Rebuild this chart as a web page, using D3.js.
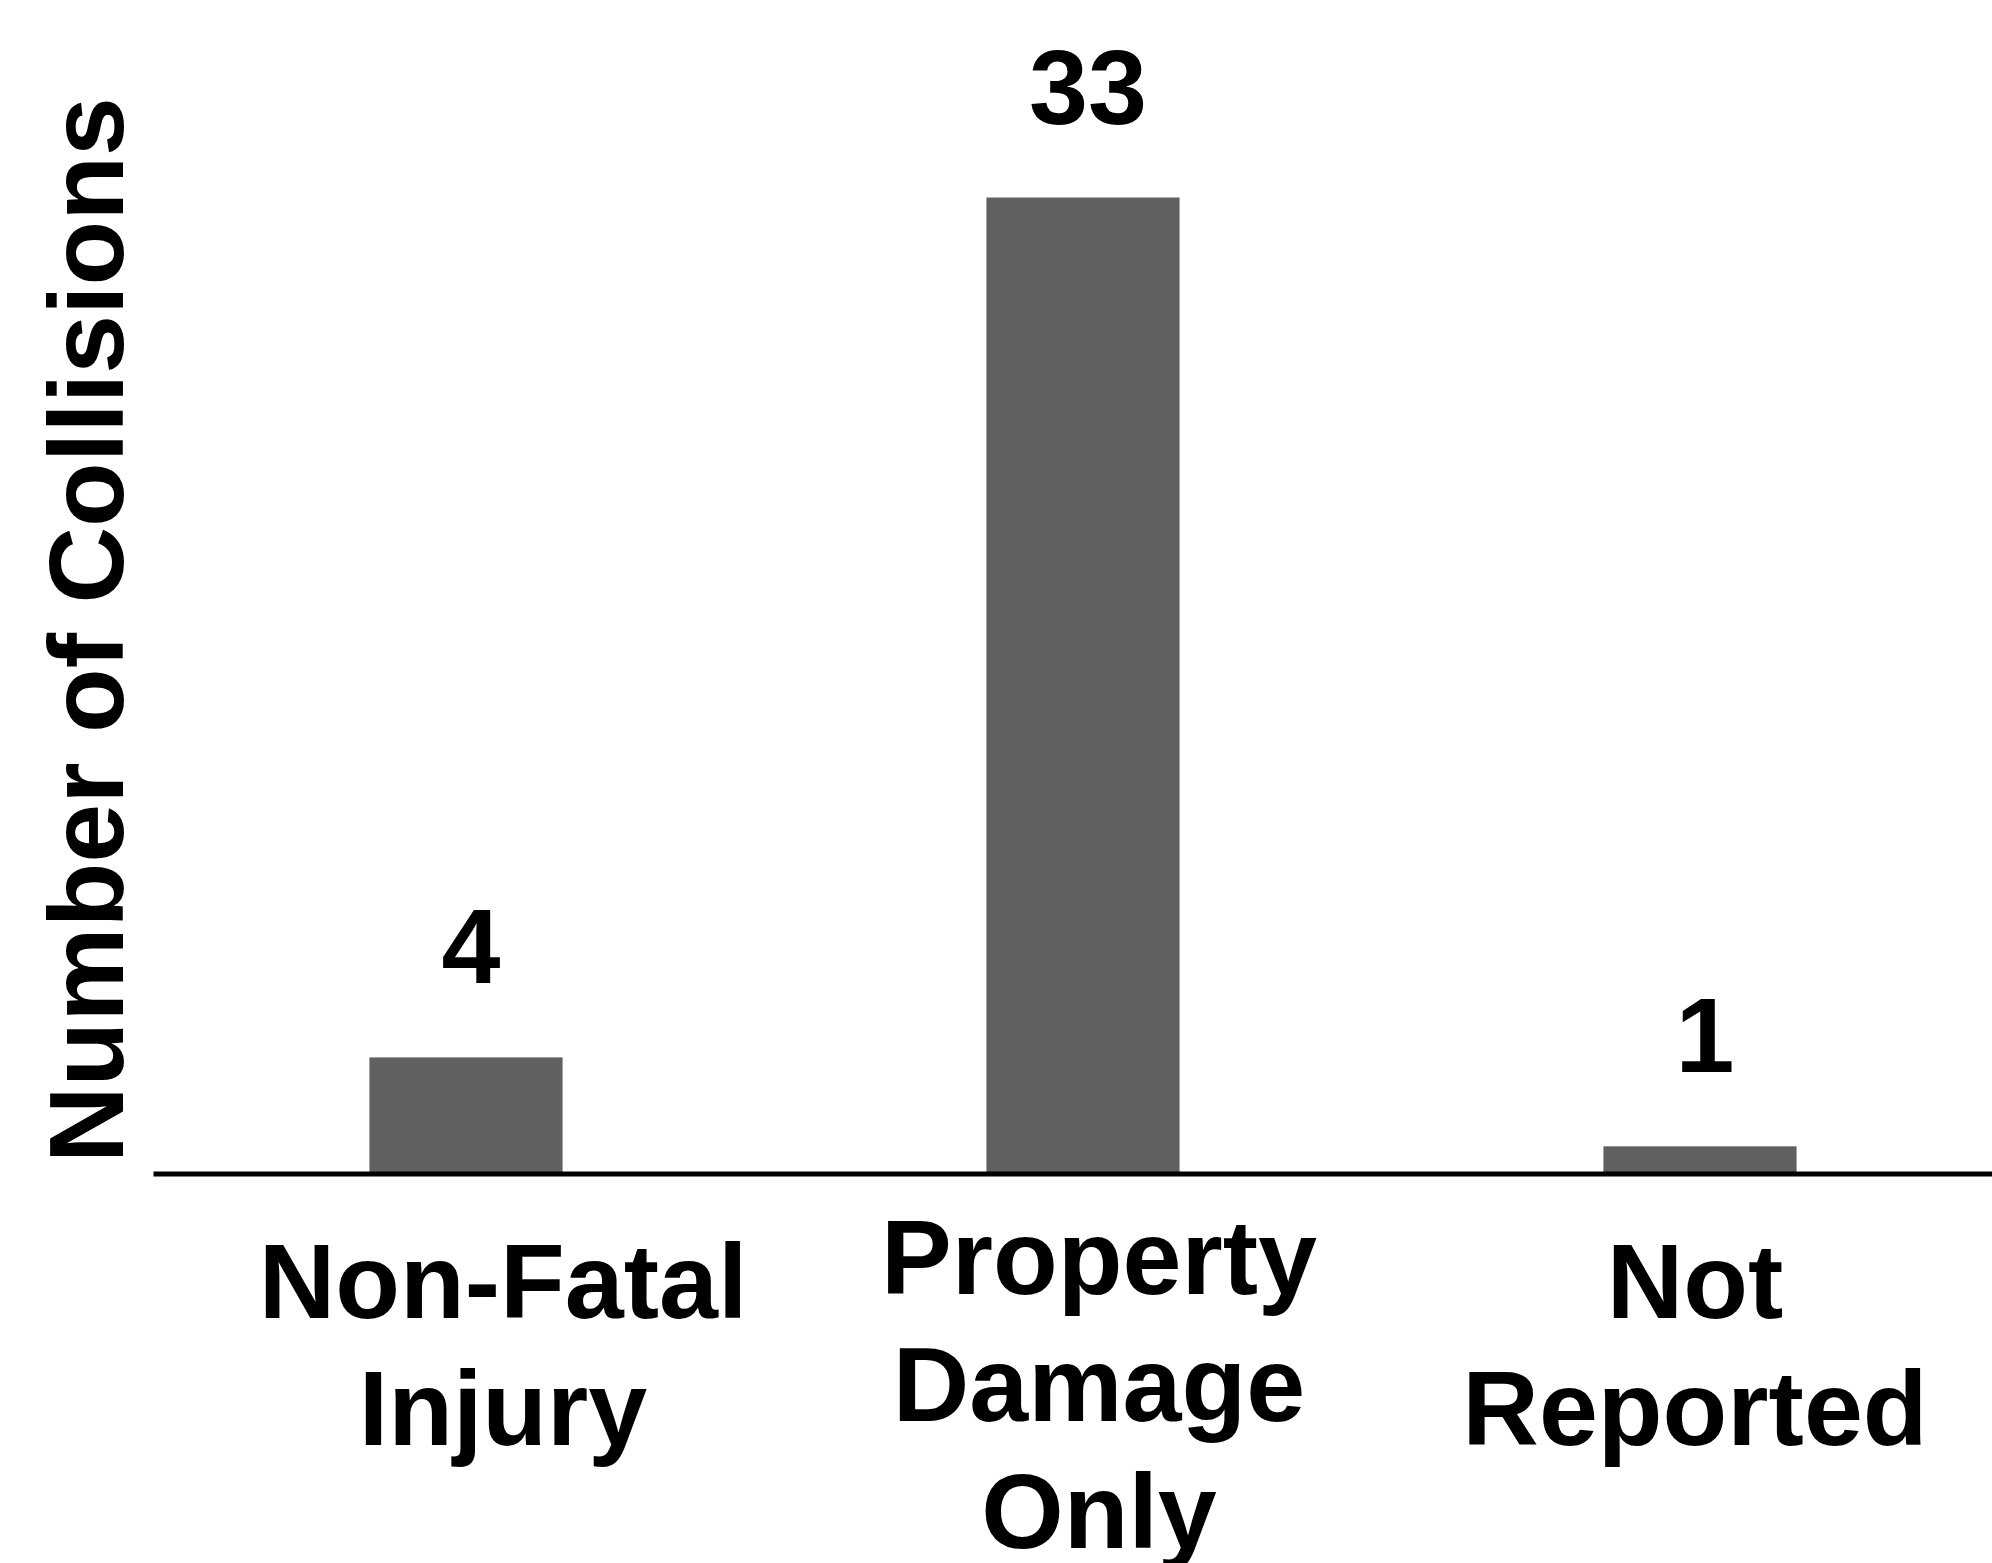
<!DOCTYPE html>
<html>
<head>
<meta charset="utf-8">
<script src="https://cdn.jsdelivr.net/npm/d3@7"></script>
<style>
  html, body { margin: 0; padding: 0; background: #ffffff; }
  svg { display: block; }
  text { font-family: "Liberation Sans", Arial, Helvetica, sans-serif; font-weight: bold; fill: #000; }
</style>
</head>
<body>
<script>
// ---- data ----
const categories = ["Non-Fatal Injury", "Property Damage Only", "Not Reported"];
const categoryLines = [["Non-Fatal", "Injury"], ["Property", "Damage", "Only"], ["Not", "Reported"]];
const values = [4, 33, 1];
const yTitle = "Number of Collisions";

// ---- layout ----
const W = 1992, H = 1563;
const svg = d3.select("body").append("svg").attr("width", W).attr("height", H);

const x = d3.scaleBand()
  .domain(categories)
  .range([157.5, 2008.5])
  .paddingInner(0.687)
  .paddingOuter(0.3435);

const xLabel = d3.scalePoint()
  .domain(categories)
  .range([503, 1695]);

const y = d3.scaleLinear()
  .domain([0, 33])
  .range([1176, 197.5]);

// bars
svg.append("g").selectAll("rect")
  .data(values)
  .join("rect")
  .attr("x", (d, i) => x(categories[i]))
  .attr("y", d => y(d))
  .attr("width", x.bandwidth())
  .attr("height", d => y(0) - y(d))
  .attr("fill", "#606060");

// axis line
const axisG = svg.append("g").attr("transform", "translate(0,1173.5)");
const xAxis = d3.axisBottom(d3.scaleLinear().range([153, W])).ticks(0).tickSize(0).tickFormat("");
axisG.call(xAxis);
axisG.select(".domain").attr("stroke", "#000").attr("stroke-width", 5);

// value labels
svg.append("g").selectAll("text")
  .data(values)
  .join("text")
  .attr("x", (d, i) => x(categories[i]) + x.bandwidth() / 2 + 5)
  .attr("y", d => y(d) - 74)
  .attr("text-anchor", "middle")
  .attr("font-size", 106)
  .text(d => d);

// category labels
const lineH = 127;
categories.forEach((c, i) => {
  const lines = categoryLines[i];
  const first = 1318 - (lines.length - 2) * 24;
  const t = svg.append("text")
    .attr("text-anchor", "middle")
    .attr("font-size", 106);
  lines.forEach((ln, j) => {
    t.append("tspan")
      .attr("x", xLabel(c))
      .attr("y", first + j * lineH)
      .text(ln);
  });
});

// y title
svg.append("text")
  .attr("transform", "translate(123,630) rotate(-90)")
  .attr("text-anchor", "middle")
  .attr("font-size", 106)
  .text(yTitle);
</script>
</body>
</html>
